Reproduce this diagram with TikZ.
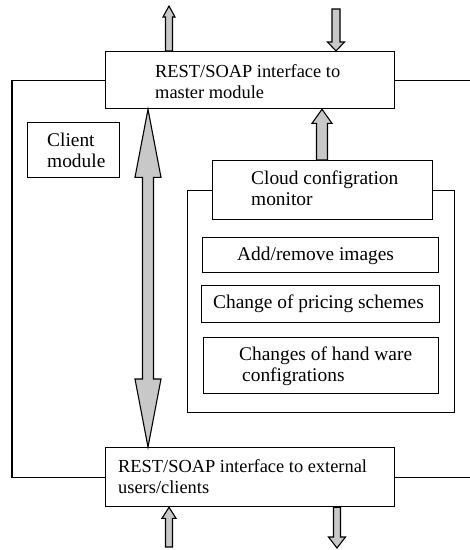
\documentclass[tikz,border=0pt]{standalone}
\usepackage{fontspec}
\setmainfont{Liberation Serif}
\usetikzlibrary{calc}
\definecolor{arrowgray}{HTML}{C8C8C8}
\tikzset{
  box/.style={draw, line width=1.3pt, fill=white, inner sep=0pt, anchor=north west},
  frame/.style={line width=1.1pt},
  txt/.style={anchor=base west, inner sep=0pt, font=\fontsize{19.4}{21}\selectfont},
  rtxt/.style={txt, font=\fontsize{18.4}{21}\selectfont},
  fat/.style={draw, fill=arrowgray, line width=1.1pt, line join=miter}
}
\newcommand\fatarrow[5]{%
  \path ($(#2)!#5!(#1)$) coordinate (fah);
  \draw[fat] ($(#1)!#3!90:(#2)$) -- ($(fah)!#3!90:(#2)$) -- ($(fah)!#4!90:(#2)$) -- (#2)
    -- ($(fah)!#4!-90:(#2)$) -- ($(fah)!#3!-90:(#2)$) -- ($(#1)!#3!-90:(#2)$) -- cycle;
}
\newcommand\twoline[2]{\begin{tabular}[t]{@{}l@{}}#1\\#2\end{tabular}}
\begin{document}
\begin{tikzpicture}[x=1pt,y=-1pt]
\useasboundingbox[fill=white] (0,0) rectangle (470,550);
\renewcommand\arraystretch{1}
% boxes
\node[box, minimum width=289pt, minimum height=57pt] (topbox) at (105,51) {};
\node[box, minimum width=289pt, minimum height=59pt] (botbox) at (105,447) {};
\node[box, minimum width=92pt, minimum height=55pt] (client) at (27,122) {};
\node[box, fill=none, minimum width=267pt, minimum height=222pt] (cont) at (187,190) {};
\node[box, minimum width=220pt, minimum height=59pt] (monitor) at (212,160) {};
\node[box, minimum width=236pt, minimum height=35pt] (addrm) at (202,237) {};
\node[box, minimum width=238pt, minimum height=37pt] (pricing) at (201,285) {};
\node[box, minimum width=235pt, minimum height=56pt] (hw) at (203,337) {};
% frame lines
\coordinate (lf) at (12,300);
\coordinate (rf) at (470,300);
\draw[frame] (topbox.west) -| (lf) |- (botbox.west);
\draw[frame] (topbox.east) -- (topbox.east -| rf);
\draw[frame] (botbox.east) -- (botbox.east -| rf);
% texts
\node[rtxt] (ttop) at (155,77) {\twoline{REST/SOAP interface to}{master module}};
\node[txt] (tclient) at (47,146) {\twoline{Client}{module}};
\node[txt] (tmon) at (251,184) {\twoline{Cloud configration}{monitor}};
\node[txt] (tadd) at (237,260) {Add/remove images};
\node[txt] (tpri) at (213,308) {Change of pricing schemes};
\node[txt] (thw) at (239,360) {\twoline{Changes of hand ware}{\hspace*{3pt}configrations}};
\node[rtxt] (tbot) at (118,472) {\twoline{REST/SOAP interface to external}{users/clients}};
% double arrow
\coordinate (ax) at (148,0);
\coordinate (dT) at (topbox.south -| ax);
\coordinate (dB) at (botbox.north -| ax);
\path ($(dT)!68pt!(dB)$) coordinate (dh1) ($(dB)!68pt!(dT)$) coordinate (dh2);
\draw[fat] (dT) -- ($(dh1)!13pt!90:(dT)$) -- ($(dh1)!5.5pt!90:(dT)$)
  -- ($(dh2)!5.5pt!-90:(dB)$) -- ($(dh2)!13pt!-90:(dB)$) -- (dB)
  -- ($(dh2)!13pt!90:(dB)$) -- ($(dh2)!5.5pt!90:(dB)$)
  -- ($(dh1)!5.5pt!-90:(dT)$) -- ($(dh1)!13pt!-90:(dT)$) -- cycle;
% monitor arrow
\coordinate (mx) at (322,0);
\coordinate (mS) at (monitor.north -| mx);
\coordinate (mT) at (topbox.south -| mx);
\fatarrow{mS}{mT}{5.5pt}{10pt}{14pt}
% small arrows top
\coordinate (t1) at (169,6);
\coordinate (t1s) at (topbox.north -| t1);
\fatarrow{t1s}{t1}{3.5pt}{6pt}{11pt}
\coordinate (t2s) at (336,9);
\coordinate (t2) at (topbox.north -| t2s);
\fatarrow{t2s}{t2}{4pt}{8.5pt}{9pt}
% small arrows bottom
\coordinate (b1s) at (169,547);
\coordinate (b1) at (botbox.south -| b1s);
\fatarrow{b1s}{b1}{3.5pt}{7pt}{11pt}
\coordinate (b2) at (337,548);
\coordinate (b2s) at (botbox.south -| b2);
\fatarrow{b2s}{b2}{3.5pt}{8.5pt}{11pt}
\end{tikzpicture}
\end{document}
